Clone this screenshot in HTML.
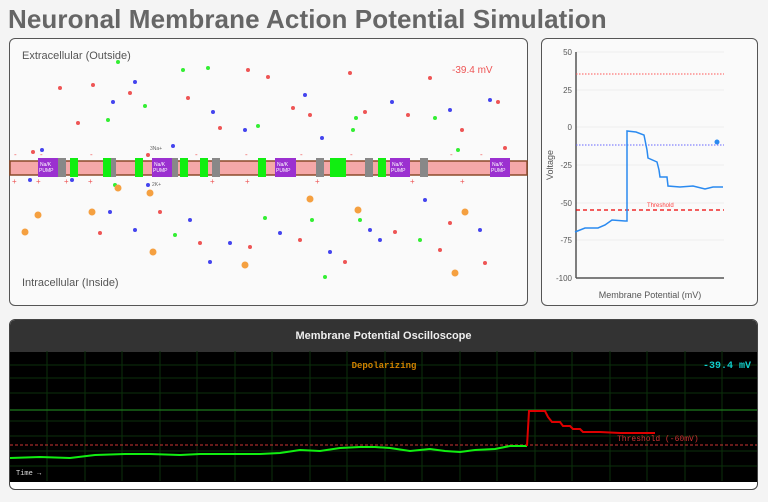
<!DOCTYPE html>
<html><head><meta charset="utf-8"><style>
body{margin:0;width:768px;height:502px;background:#f4f4f4;font-family:"Liberation Sans",sans-serif;overflow:hidden;position:relative}
.t{position:absolute;left:8px;top:4px;font-size:26px;color:#666;font-weight:bold;letter-spacing:0.1px}
.p{position:absolute;border:1.5px solid #555;border-radius:6px;background:#fafafa;box-sizing:border-box}
</style></head><body>
<div class="t">Neuronal Membrane Action Potential Simulation</div>
<div class="p" style="left:9px;top:38px;width:519px;height:268px"></div>
<svg style="position:absolute;left:0;top:0" width="768" height="502">
<g font-size="11" fill="#555"><text x="22" y="59">Extracellular (Outside)</text><text x="22" y="286">Intracellular (Inside)</text></g>
<text x="452" y="73" font-size="10" fill="#e55">-39.4 mV</text>
<rect x="10" y="161" width="517" height="14" fill="#f5a8a8" stroke="#8b4a2a" stroke-width="1.5"/>
<g fill="#9b30d0"><rect x="38" y="158" width="20" height="19"/><rect x="152" y="158" width="20" height="19"/><rect x="275" y="158" width="21" height="19"/><rect x="390" y="158" width="20" height="19"/><rect x="490" y="158" width="20" height="19"/></g>
<g fill="#888"><rect x="58" y="158" width="8" height="19"/><rect x="110" y="158" width="6" height="19"/><rect x="172" y="158" width="6" height="19"/><rect x="212" y="158" width="8" height="19"/><rect x="316" y="158" width="8" height="19"/><rect x="365" y="158" width="8" height="19"/><rect x="420" y="158" width="8" height="19"/></g>
<g fill="#1e1"><rect x="70" y="158" width="8" height="19"/><rect x="103" y="158" width="8" height="19"/><rect x="135" y="158" width="8" height="19"/><rect x="180" y="158" width="8" height="19"/><rect x="200" y="158" width="8" height="19"/><rect x="258" y="158" width="8" height="19"/><rect x="330" y="158" width="16" height="19"/><rect x="378" y="158" width="8" height="19"/></g>
<g font-size="5" fill="#fff"><text x="40" y="166">Na/K</text><text x="39" y="172">PUMP</text><text x="154" y="166">Na/K</text><text x="153" y="172">PUMP</text><text x="277" y="166">Na/K</text><text x="276" y="172">PUMP</text><text x="392" y="166">Na/K</text><text x="391" y="172">PUMP</text><text x="492" y="166">Na/K</text><text x="491" y="172">PUMP</text></g>
<g font-size="5" fill="#666"><text x="150" y="150">3Na+</text><text x="152" y="186">2K+</text></g>
<g font-size="8" fill="#e55"><text x="14" y="157">-</text><text x="40" y="157">-</text><text x="90" y="157">-</text><text x="195" y="157">-</text><text x="245" y="157">-</text><text x="300" y="157">-</text><text x="350" y="157">-</text><text x="450" y="157">-</text><text x="480" y="157">-</text><text x="12" y="184">+</text><text x="36" y="184">+</text><text x="64" y="184">+</text><text x="88" y="184">+</text><text x="210" y="184">+</text><text x="245" y="184">+</text><text x="315" y="184">+</text><text x="410" y="184">+</text><text x="460" y="184">+</text></g>
<g fill="#e55"><circle cx="60" cy="88" r="2"/><circle cx="93" cy="85" r="2"/><circle cx="130" cy="93" r="2"/><circle cx="188" cy="98" r="2"/><circle cx="248" cy="70" r="2"/><circle cx="268" cy="77" r="2"/><circle cx="293" cy="108" r="2"/><circle cx="310" cy="115" r="2"/><circle cx="350" cy="73" r="2"/><circle cx="365" cy="112" r="2"/><circle cx="408" cy="115" r="2"/><circle cx="430" cy="78" r="2"/><circle cx="462" cy="130" r="2"/><circle cx="498" cy="102" r="2"/><circle cx="505" cy="148" r="2"/><circle cx="33" cy="152" r="2"/><circle cx="148" cy="155" r="2"/><circle cx="100" cy="233" r="2"/><circle cx="160" cy="212" r="2"/><circle cx="200" cy="243" r="2"/><circle cx="250" cy="247" r="2"/><circle cx="300" cy="240" r="2"/><circle cx="345" cy="262" r="2"/><circle cx="395" cy="232" r="2"/><circle cx="440" cy="250" r="2"/><circle cx="485" cy="263" r="2"/><circle cx="450" cy="223" r="2"/><circle cx="78" cy="123" r="2"/><circle cx="220" cy="128" r="2"/></g>
<g fill="#44e"><circle cx="42" cy="150" r="2"/><circle cx="113" cy="102" r="2"/><circle cx="135" cy="82" r="2"/><circle cx="213" cy="112" r="2"/><circle cx="245" cy="130" r="2"/><circle cx="305" cy="95" r="2"/><circle cx="322" cy="138" r="2"/><circle cx="392" cy="102" r="2"/><circle cx="450" cy="110" r="2"/><circle cx="490" cy="100" r="2"/><circle cx="173" cy="146" r="2"/><circle cx="30" cy="180" r="2"/><circle cx="72" cy="180" r="2"/><circle cx="148" cy="185" r="2"/><circle cx="110" cy="212" r="2"/><circle cx="190" cy="220" r="2"/><circle cx="230" cy="243" r="2"/><circle cx="280" cy="233" r="2"/><circle cx="370" cy="230" r="2"/><circle cx="380" cy="240" r="2"/><circle cx="330" cy="252" r="2"/><circle cx="210" cy="262" r="2"/><circle cx="135" cy="230" r="2"/><circle cx="425" cy="200" r="2"/><circle cx="480" cy="230" r="2"/></g>
<g fill="#3e3"><circle cx="118" cy="62" r="2"/><circle cx="183" cy="70" r="2"/><circle cx="208" cy="68" r="2"/><circle cx="108" cy="120" r="2"/><circle cx="145" cy="106" r="2"/><circle cx="258" cy="126" r="2"/><circle cx="356" cy="118" r="2"/><circle cx="353" cy="130" r="2"/><circle cx="435" cy="118" r="2"/><circle cx="458" cy="150" r="2"/><circle cx="115" cy="185" r="2"/><circle cx="175" cy="235" r="2"/><circle cx="312" cy="220" r="2"/><circle cx="360" cy="220" r="2"/><circle cx="420" cy="240" r="2"/><circle cx="325" cy="277" r="2"/><circle cx="265" cy="218" r="2"/></g>
<g fill="#f5a040"><circle cx="118" cy="188" r="3.5"/><circle cx="25" cy="232" r="3.5"/><circle cx="38" cy="215" r="3.5"/><circle cx="92" cy="212" r="3.5"/><circle cx="150" cy="193" r="3.5"/><circle cx="153" cy="252" r="3.5"/><circle cx="245" cy="265" r="3.5"/><circle cx="310" cy="199" r="3.5"/><circle cx="358" cy="210" r="3.5"/><circle cx="465" cy="212" r="3.5"/><circle cx="455" cy="273" r="3.5"/></g>
</svg>
<div class="p" style="left:541px;top:38px;width:217px;height:268px"></div>
<svg style="position:absolute;left:0;top:0" width="768" height="502">
<g stroke="#eee"><line x1="576" y1="52" x2="724" y2="52"/><line x1="576" y1="90" x2="724" y2="90"/><line x1="576" y1="127" x2="724" y2="127"/><line x1="576" y1="165" x2="724" y2="165"/><line x1="576" y1="203" x2="724" y2="203"/><line x1="576" y1="240" x2="724" y2="240"/></g>
<g stroke="#555" stroke-width="1.5"><line x1="576" y1="52" x2="576" y2="278"/><line x1="576" y1="278" x2="724" y2="278"/></g>
<g font-size="8" fill="#555" text-anchor="end"><text x="572" y="55">50</text><text x="572" y="93">25</text><text x="572" y="130">0</text><text x="572" y="168">-25</text><text x="572" y="206">-50</text><text x="572" y="243">-75</text><text x="572" y="281">-100</text></g>
<text x="553" y="165" font-size="9" fill="#555" transform="rotate(-90 553 165)" text-anchor="middle">Voltage</text>
<text x="650" y="298" font-size="9" fill="#555" text-anchor="middle">Membrane Potential (mV)</text>
<line x1="576" y1="74" x2="724" y2="74" stroke="#f55" stroke-dasharray="1.5,1.5"/>
<line x1="576" y1="145" x2="724" y2="145" stroke="#66f" stroke-dasharray="1.5,1.5"/>
<line x1="576" y1="210" x2="724" y2="210" stroke="#e00" stroke-width="1.3" stroke-dasharray="4,3"/>
<text x="647" y="207" font-size="6" fill="#f44">Threshold</text>
<polyline fill="none" stroke="#2a8af0" stroke-width="1.5" points="575,232 585,228 598,228 605,225 612,220 625,221 627,221 627,131 636,132 644,135 647,150 648,158 657,162 659,170 660,177 667,177 668,186 680,187 693,186 705,189 713,187 723,187"/>
<circle cx="717" cy="142" r="2.5" fill="#2a8af0"/>
</svg>
<div class="p" style="left:9px;top:319px;width:749px;height:171px;background:#fff;overflow:hidden;border-color:#444">
<div style="height:32px;background:#333;color:#eee;font-weight:bold;font-size:11px;text-align:center;line-height:32px">Membrane Potential Oscilloscope</div>
<div style="height:130px;background:#000"></div>
</div>
<svg style="position:absolute;left:0;top:0" width="768" height="502">
<g stroke="#0b300b" stroke-width="1">
<line x1="10" y1="365" x2="757" y2="365"/><line x1="10" y1="378" x2="757" y2="378"/><line x1="10" y1="393" x2="757" y2="393"/><line x1="10" y1="421" x2="757" y2="421"/><line x1="10" y1="436" x2="757" y2="436"/><line x1="10" y1="451" x2="757" y2="451"/><line x1="10" y1="466" x2="757" y2="466"/>
<line x1="47" y1="351" x2="47" y2="481"/><line x1="85" y1="351" x2="85" y2="481"/><line x1="122" y1="351" x2="122" y2="481"/><line x1="160" y1="351" x2="160" y2="481"/><line x1="197" y1="351" x2="197" y2="481"/><line x1="235" y1="351" x2="235" y2="481"/><line x1="272" y1="351" x2="272" y2="481"/><line x1="310" y1="351" x2="310" y2="481"/><line x1="347" y1="351" x2="347" y2="481"/><line x1="385" y1="351" x2="385" y2="481"/><line x1="422" y1="351" x2="422" y2="481"/><line x1="460" y1="351" x2="460" y2="481"/><line x1="497" y1="351" x2="497" y2="481"/><line x1="535" y1="351" x2="535" y2="481"/><line x1="572" y1="351" x2="572" y2="481"/><line x1="610" y1="351" x2="610" y2="481"/><line x1="647" y1="351" x2="647" y2="481"/><line x1="685" y1="351" x2="685" y2="481"/><line x1="722" y1="351" x2="722" y2="481"/>
</g>
<line x1="10" y1="410" x2="757" y2="410" stroke="#1d7a1d" stroke-width="1.2"/>
<line x1="10" y1="445" x2="757" y2="445" stroke="#c33" stroke-dasharray="3,2"/>
<polyline fill="none" stroke="#1e1" stroke-width="2" points="10,458 40,457 70,458 95,455 125,454 150,454 180,455 200,454 230,454 260,454 280,453 300,450 320,451 340,448 360,447 375,447 390,448 410,451 430,449 445,451 460,452 475,450 495,449 510,446 527,446"/>
<polyline fill="none" stroke="#d00" stroke-width="2" points="527,446 529,411 545,411 548,417 552,422 560,422 563,426 570,426 573,429 580,429 583,432 600,432 620,433 640,433 655,433"/>
<text x="617" y="441" font-family="Liberation Mono,monospace" font-size="8" fill="#c33">Threshold (-60mV)</text>
<text x="384" y="368" font-family="Liberation Mono,monospace" font-size="9" fill="#d08000" font-weight="bold" text-anchor="middle">Depolarizing</text>
<text x="751" y="368" font-family="Liberation Mono,monospace" font-size="10" fill="#1cc" font-weight="bold" text-anchor="end">-39.4 mV</text>
<text x="16" y="475" font-family="Liberation Mono,monospace" font-size="7" fill="#ddd">Time →</text>
</svg>
</body></html>
